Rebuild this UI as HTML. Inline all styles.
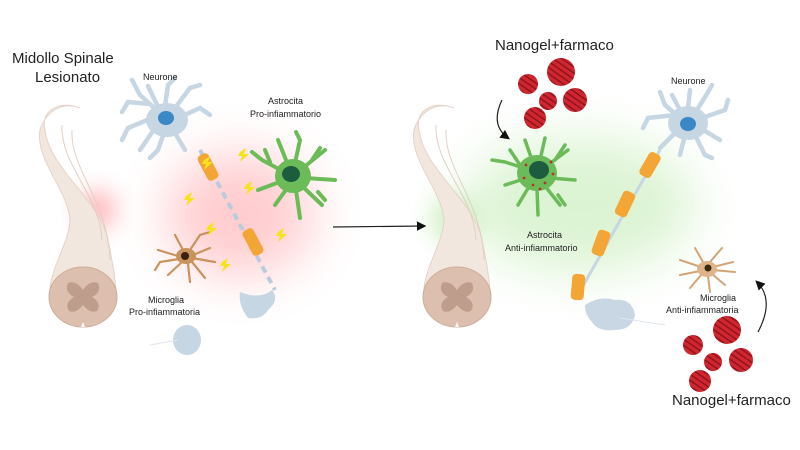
<!DOCTYPE html>
<html><head><meta charset="utf-8"><style>
html,body{margin:0;padding:0;background:#fff;}
svg{display:block;}
text{font-family:"Liberation Sans",sans-serif;fill:#222;}
</style></head><body>
<svg width="800" height="450" viewBox="0 0 800 450" xmlns="http://www.w3.org/2000/svg">
<defs>
<filter id="b1" x="-50%" y="-50%" width="200%" height="200%"><feGaussianBlur stdDeviation="25"/></filter>
<filter id="b2" x="-50%" y="-50%" width="200%" height="200%"><feGaussianBlur stdDeviation="12"/></filter>
<pattern id="yarn" width="5" height="5" patternUnits="userSpaceOnUse" patternTransform="rotate(35)">
<rect width="5" height="5" fill="#cf2630"/><rect width="5" height="1.4" fill="#8e121a"/></pattern>
<marker id="ah" markerWidth="8" markerHeight="8" refX="6" refY="4" orient="auto"><path d="M0,0 L8,4 L0,8 Z" fill="#111"/></marker>
</defs>

<!-- glows -->
<ellipse cx="240" cy="215" rx="75" ry="62" fill="#ff5a63" opacity="0.3" filter="url(#b1)"/>
<ellipse cx="97" cy="210" rx="18" ry="20" fill="#ff5a63" opacity="0.45" filter="url(#b2)"/>
<ellipse cx="580" cy="205" rx="115" ry="68" fill="#a8e392" opacity="0.4" filter="url(#b1)"/>
<ellipse cx="455" cy="220" rx="24" ry="26" fill="#a8e392" opacity="0.5" filter="url(#b2)"/>

<!-- titles -->
<text x="12" y="63" font-size="15">Midollo Spinale</text>
<text x="35" y="82" font-size="15">Lesionato</text>
<text x="495" y="50" font-size="15">Nanogel+farmaco</text>
<text x="672" y="405" font-size="15">Nanogel+farmaco</text>

<!-- spinal cords -->
<g id="cord">
<path d="M80,108 C60,100 40,110 45,130 C50,170 100,200 108,240 C115,275 115,280 116,290 L50,290 C50,270 70,240 70,220 C68,190 35,160 40,130 C44,115 60,100 80,108 Z" fill="#f2e7df" stroke="#e4d3c8" stroke-width="1"/>
<path d="M62,125 C60,165 100,195 102,240 M72,130 C70,170 108,200 110,260" fill="none" stroke="#e2cfc3" stroke-width="1"/>
<ellipse cx="83" cy="297" rx="34" ry="30" fill="#dcbfae" stroke="#cfae9a" stroke-width="1"/>
<path d="M68,283 Q76,280 83,290 Q90,280 98,283 Q102,292 92,297 Q102,303 97,311 Q90,314 83,305 Q76,314 69,311 Q64,303 74,297 Q64,292 68,283 Z" fill="#bf9d8d"/>
<path d="M83,322 l-2,5 l4,0 Z" fill="#fff"/>
</g>
<use href="#cord" transform="translate(374,0)"/>

<!-- left neuron -->
<g stroke="#c7d6e3" stroke-width="4.5" stroke-linecap="round" fill="none">
<path d="M165,118 L140,95 L132,80 M150,104 L128,102 L122,112 M152,118 L128,128 L122,140 M155,128 L140,150 M165,130 L158,150 L150,158 M172,128 L185,150 M178,118 L200,108 L210,115 M175,108 L190,88 L200,85 M165,106 L168,85 L175,78 M158,107 L148,86"/>
</g>
<ellipse cx="167" cy="120" rx="21" ry="17" fill="#c7d6e3"/>
<ellipse cx="166" cy="118" rx="8" ry="7" fill="#3c87c6"/>
<text x="143" y="80" font-size="9">Neurone</text>
<line x1="200" y1="150" x2="275" y2="290" stroke="#b9cbdc" stroke-width="4" stroke-dasharray="7,5"/>
<rect x="-6" y="-14" width="12" height="28" rx="4" fill="#f3a535" transform="translate(208,167) rotate(-28)"/>
<rect x="-6" y="-14" width="12" height="28" rx="4" fill="#f3a535" transform="translate(253,242) rotate(-28)"/>
<path d="M240,292 Q260,300 272,290 Q280,300 268,310 Q262,320 248,318 Q238,305 240,292 Z" fill="#c7d6e3"/>
<ellipse cx="187" cy="340" rx="14" ry="15" fill="#c7d6e3"/>
<path d="M150,345 L178,340" stroke="#dde6ee" stroke-width="1"/>

<!-- left astrocyte -->
<g stroke="#6cbb59" stroke-width="4" stroke-linecap="round" fill="none">
<path d="M290,175 L262,160 L252,152 M285,180 L258,190 M288,187 L275,205 M296,190 L300,218 M302,186 L322,205 M305,178 L335,180 M303,168 L325,150 M295,163 L300,140 L296,132 M288,165 L278,140 M270,162 L265,150 M318,192 L325,200 M312,160 L320,148"/>
</g>
<ellipse cx="293" cy="176" rx="18" ry="17" fill="#6cbb59"/>
<ellipse cx="291" cy="174" rx="9" ry="8" fill="#1d5c3f"/>
<text x="268" y="104" font-size="9">Astrocita</text>
<text x="250" y="117" font-size="9">Pro-infiammatorio</text>

<!-- microglia left -->
<g stroke="#c9935e" stroke-width="2.2" stroke-linecap="round" fill="none">
<path d="M185,258 L160,262 L155,270 M182,262 L168,275 M188,264 L190,282 M192,262 L205,278 M193,255 L210,248 M190,250 L200,235 L210,232 M183,250 L175,235 M178,256 L158,250 M192,258 L215,262"/>
</g>
<ellipse cx="186" cy="256" rx="10" ry="8" fill="#c9935e"/>
<circle cx="185" cy="256" r="4" fill="#3a2010"/>
<text x="148" y="303" font-size="9">Microglia</text>
<text x="129" y="315" font-size="9">Pro-infiammatoria</text>

<!-- lightning -->
<g fill="#f6e21d">
<path d="M240,152 l6,-4 l-2,6 l5,0 l-9,8 l2,-6 l-4,0 Z"/>
<path d="M246,185 l6,-4 l-2,6 l5,0 l-9,8 l2,-6 l-4,0 Z"/>
<path d="M186,196 l6,-4 l-2,6 l5,0 l-9,8 l2,-6 l-4,0 Z"/>
<path d="M208,226 l6,-4 l-2,6 l5,0 l-9,8 l2,-6 l-4,0 Z"/>
<path d="M222,262 l6,-4 l-2,6 l5,0 l-9,8 l2,-6 l-4,0 Z"/>
<path d="M278,232 l6,-4 l-2,6 l5,0 l-9,8 l2,-6 l-4,0 Z"/>
<path d="M204,160 l6,-4 l-2,6 l5,0 l-9,8 l2,-6 l-4,0 Z"/>
</g>

<!-- main arrow -->
<line x1="333" y1="227" x2="424" y2="226" stroke="#222" stroke-width="1.2" marker-end="url(#ah)"/>

<!-- nanogels -->
<g fill="url(#yarn)">
<circle cx="561" cy="72" r="14"/><circle cx="528" cy="84" r="10"/><circle cx="548" cy="101" r="9"/><circle cx="575" cy="100" r="12"/><circle cx="535" cy="118" r="11"/>
<circle cx="727" cy="330" r="14"/><circle cx="693" cy="345" r="10"/><circle cx="713" cy="362" r="9"/><circle cx="741" cy="360" r="12"/><circle cx="700" cy="381" r="11"/>
</g>
<path d="M502,100 Q490,125 508,138" fill="none" stroke="#222" stroke-width="1.2" marker-end="url(#ah)"/>
<path d="M758,332 Q775,300 757,282" fill="none" stroke="#222" stroke-width="1.2" marker-end="url(#ah)"/>

<!-- right astrocyte -->
<g stroke="#6cbb59" stroke-width="3.5" stroke-linecap="round" fill="none">
<path d="M530,170 L505,162 L492,160 M527,178 L505,185 M530,185 L518,205 M537,188 L538,215 M545,186 L560,205 M550,178 L575,180 M548,165 L568,150 M540,160 L545,138 M532,160 L525,140 M520,165 L510,150 M558,195 L565,205 M555,160 L565,145"/>
</g>
<ellipse cx="537" cy="173" rx="20" ry="18" fill="#6cbb59"/>
<ellipse cx="539" cy="170" rx="10" ry="9" fill="#1d5c3f"/>
<g fill="#b8322c"><circle cx="526" cy="165" r="1.4"/><circle cx="524" cy="178" r="1.4"/><circle cx="533" cy="185" r="1.4"/><circle cx="545" cy="183" r="1.4"/><circle cx="553" cy="174" r="1.4"/><circle cx="551" cy="162" r="1.4"/><circle cx="540" cy="189" r="1.4"/></g>
<text x="527" y="238" font-size="9">Astrocita</text>
<text x="505" y="251" font-size="9">Anti-infiammatorio</text>

<!-- right neuron -->
<g stroke="#c7d6e3" stroke-width="4.5" stroke-linecap="round" fill="none">
<path d="M688,125 L665,105 L660,92 M675,115 L648,118 L643,128 M678,130 L660,148 M685,135 L680,155 M695,135 L705,155 L712,158 M700,128 L720,140 M702,118 L725,110 L728,100 M697,110 L708,92 L712,85 M688,108 L690,90 M680,110 L672,95"/>
</g>
<ellipse cx="688" cy="123" rx="20" ry="17" fill="#c7d6e3"/>
<ellipse cx="688" cy="124" rx="8" ry="7" fill="#3c87c6"/>
<text x="671" y="84" font-size="9">Neurone</text>
<path d="M660,150 L575,300" stroke="#c7d6e3" stroke-width="3"/>
<g fill="#f3a535">
<rect x="-6.5" y="-13" width="13" height="26" rx="4" transform="translate(650,165) rotate(30)"/>
<rect x="-6.5" y="-13" width="13" height="26" rx="4" transform="translate(625,204) rotate(25)"/>
<rect x="-6.5" y="-13" width="13" height="26" rx="4" transform="translate(601,243) rotate(20)"/>
<rect x="-6.5" y="-13" width="13" height="26" rx="4" transform="translate(578,287) rotate(5)"/>
</g>
<path d="M585,305 Q600,295 615,300 Q632,298 635,315 Q632,330 615,330 Q598,332 592,322 Q585,315 585,305 Z" fill="#c9d7e4"/>
<path d="M620,318 L665,325" stroke="#dde6ee" stroke-width="1"/>

<!-- microglia right -->
<g stroke="#d2a476" stroke-width="2" stroke-linecap="round" fill="none">
<path d="M705,270 L680,275 M702,274 L690,288 M708,276 L710,292 M712,274 L725,285 M713,267 L733,262 M710,262 L722,248 M703,262 L695,248 M698,266 L680,260 M712,270 L735,272"/>
</g>
<ellipse cx="707" cy="269" rx="10" ry="8" fill="#e0b48a"/>
<circle cx="708" cy="268" r="3.5" fill="#3a2a10"/>
<text x="700" y="301" font-size="9">Microglia</text>
<text x="666" y="313" font-size="9">Anti-infiammatoria</text>
</svg>
</body></html>
